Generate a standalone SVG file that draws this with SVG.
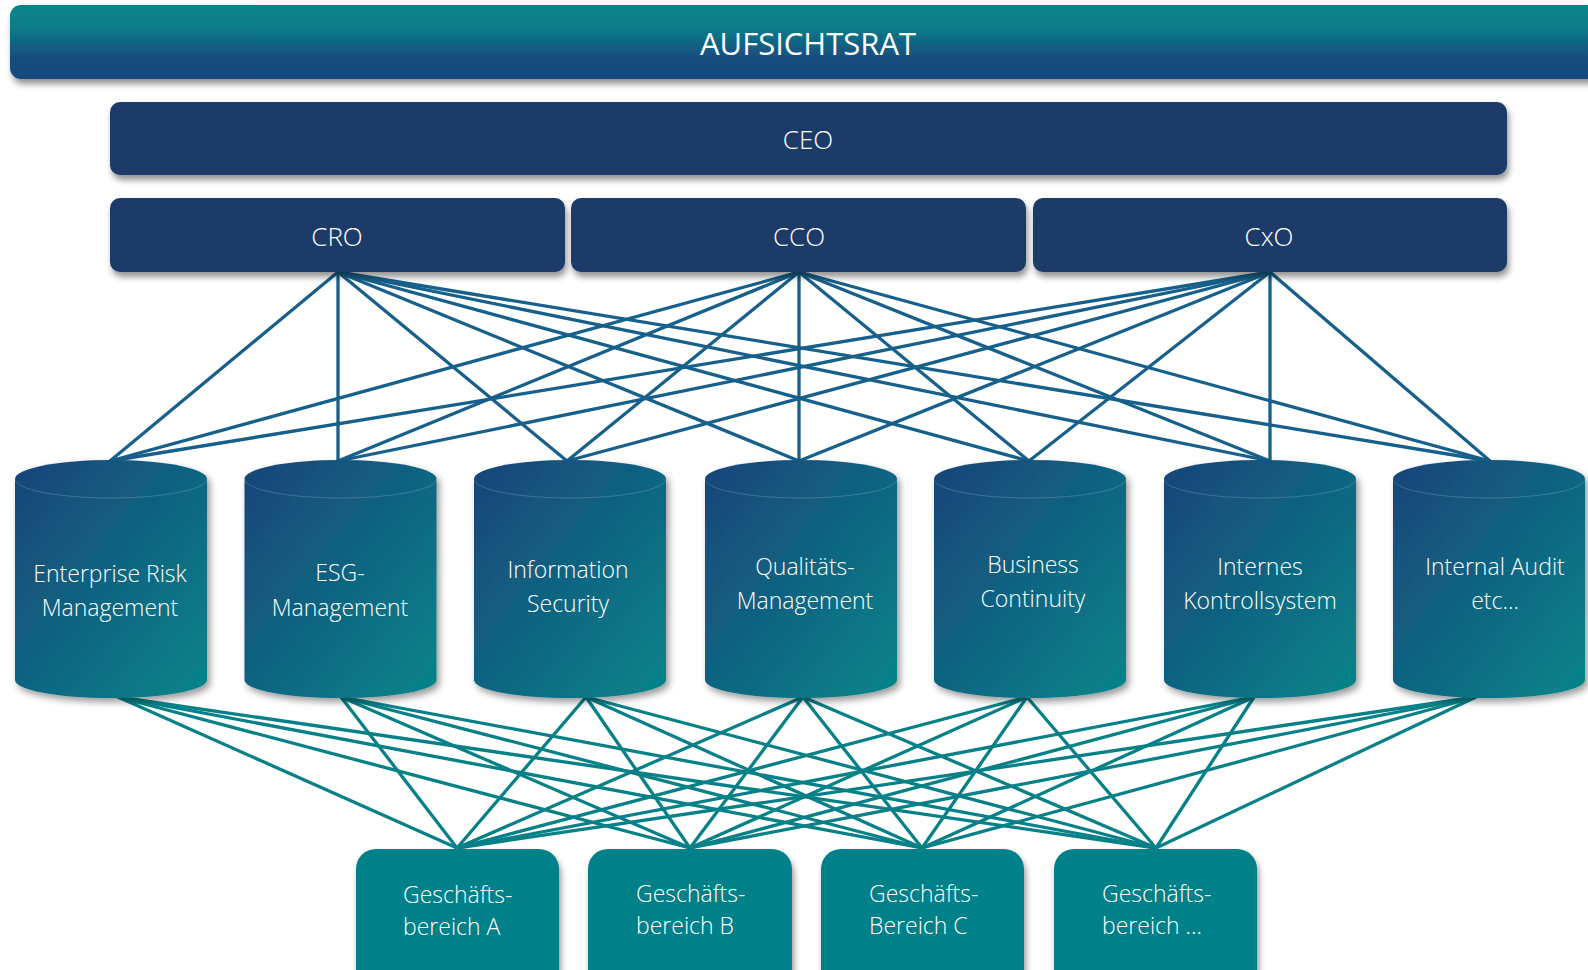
<svg xmlns="http://www.w3.org/2000/svg" width="1588" height="970" viewBox="0 0 1588 970">
<defs>
<linearGradient id="gAR" x1="0" y1="0" x2="0" y2="1">
<stop offset="0" stop-color="#06848a"/>
<stop offset="0.3" stop-color="#0a7d89"/>
<stop offset="0.72" stop-color="#174c7e"/>
<stop offset="1" stop-color="#184a7c"/>
</linearGradient>
<linearGradient id="gCyl" x1="0" y1="0" x2="1" y2="1">
<stop offset="0" stop-color="#1a4479"/>
<stop offset="1" stop-color="#05858a"/>
</linearGradient>
<filter id="sh" x="-10%" y="-20%" width="130%" height="160%">
<feDropShadow dx="2" dy="5" stdDeviation="3" flood-color="#000" flood-opacity="0.42"/>
</filter>
<filter id="shc" x="-20%" y="-10%" width="150%" height="130%">
<feDropShadow dx="3" dy="4" stdDeviation="3.5" flood-color="#000" flood-opacity="0.4"/>
</filter>
</defs>
<style>
.navy{fill:#1b3a68;filter:url(#sh)}
.gb{fill:#058088;filter:url(#sh)}
.cyl{fill:url(#gCyl);filter:url(#shc)}
.rim{fill:none;stroke:#ffffff;stroke-opacity:0.22;stroke-width:0.8}
.t{fill:#ffffff;font-family:"Open Sans","Liberation Sans",sans-serif;font-weight:300}
.tc{text-anchor:middle}
.top line{stroke:#17608b;stroke-width:3.3}
.bot line{stroke:#078088;stroke-width:3.3}
</style>
<rect width="1588" height="970" fill="#ffffff"/>

<g id="connectors">
<g class="top">
<line x1="338" y1="272" x2="110" y2="461"/>
<line x1="338" y1="272" x2="338" y2="461"/>
<line x1="338" y1="272" x2="567" y2="461"/>
<line x1="338" y1="272" x2="799" y2="461"/>
<line x1="338" y1="272" x2="1029" y2="461"/>
<line x1="338" y1="272" x2="1270" y2="461"/>
<line x1="338" y1="272" x2="1490" y2="461"/>
<line x1="799" y1="272" x2="110" y2="461"/>
<line x1="799" y1="272" x2="338" y2="461"/>
<line x1="799" y1="272" x2="567" y2="461"/>
<line x1="799" y1="272" x2="799" y2="461"/>
<line x1="799" y1="272" x2="1029" y2="461"/>
<line x1="799" y1="272" x2="1270" y2="461"/>
<line x1="799" y1="272" x2="1490" y2="461"/>
<line x1="1270" y1="272" x2="110" y2="461"/>
<line x1="1270" y1="272" x2="338" y2="461"/>
<line x1="1270" y1="272" x2="567" y2="461"/>
<line x1="1270" y1="272" x2="799" y2="461"/>
<line x1="1270" y1="272" x2="1029" y2="461"/>
<line x1="1270" y1="272" x2="1270" y2="461"/>
<line x1="1270" y1="272" x2="1490" y2="461"/>
</g>
<g class="bot">
<line x1="118" y1="697" x2="457" y2="848"/>
<line x1="118" y1="697" x2="690" y2="848"/>
<line x1="118" y1="697" x2="922" y2="848"/>
<line x1="118" y1="697" x2="1156" y2="848"/>
<line x1="341" y1="697" x2="457" y2="848"/>
<line x1="341" y1="697" x2="690" y2="848"/>
<line x1="341" y1="697" x2="922" y2="848"/>
<line x1="341" y1="697" x2="1156" y2="848"/>
<line x1="586" y1="697" x2="457" y2="848"/>
<line x1="586" y1="697" x2="690" y2="848"/>
<line x1="586" y1="697" x2="922" y2="848"/>
<line x1="586" y1="697" x2="1156" y2="848"/>
<line x1="803" y1="697" x2="457" y2="848"/>
<line x1="803" y1="697" x2="690" y2="848"/>
<line x1="803" y1="697" x2="922" y2="848"/>
<line x1="803" y1="697" x2="1156" y2="848"/>
<line x1="1027" y1="697" x2="457" y2="848"/>
<line x1="1027" y1="697" x2="690" y2="848"/>
<line x1="1027" y1="697" x2="922" y2="848"/>
<line x1="1027" y1="697" x2="1156" y2="848"/>
<line x1="1254" y1="697" x2="457" y2="848"/>
<line x1="1254" y1="697" x2="690" y2="848"/>
<line x1="1254" y1="697" x2="922" y2="848"/>
<line x1="1254" y1="697" x2="1156" y2="848"/>
<line x1="1476" y1="697" x2="457" y2="848"/>
<line x1="1476" y1="697" x2="690" y2="848"/>
<line x1="1476" y1="697" x2="922" y2="848"/>
<line x1="1476" y1="697" x2="1156" y2="848"/>
</g>
</g>

<g id="aufsichtsrat">
<rect x="10" y="5" width="1600" height="74" rx="11" fill="url(#gAR)" filter="url(#sh)"/>
<text class="t tc" x="808" y="55" font-size="31" style="font-weight:400">AUFSICHTSRAT</text>
</g>

<g id="ceo">
<rect class="navy" x="110" y="102" width="1397" height="73" rx="10"/>
<text class="t tc" x="808" y="149" font-size="26">CEO</text>
</g>
<g id="cro">
<rect class="navy" x="110" y="198" width="455" height="74" rx="10"/>
<text class="t tc" x="337" y="246" font-size="26">CRO</text>
</g>
<g id="cco">
<rect class="navy" x="571" y="198" width="455" height="74" rx="10"/>
<text class="t tc" x="799" y="246" font-size="26">CCO</text>
</g>
<g id="cxo">
<rect class="navy" x="1033" y="198" width="474" height="74" rx="10"/>
<text class="t tc" x="1269" y="246" font-size="26">CxO</text>
</g>

<g id="erm">
<path class="cyl" d="M15,479 A96,19 0 0 1 207,479 V680 A96,18 0 0 1 15,680 Z"/>
<path class="rim" d="M15,479 A96,19 0 0 0 207,479"/>
<text class="t tc" font-size="23"><tspan x="110" y="582">Enterprise Risk</tspan><tspan x="110" y="616">Management</tspan></text>
</g>
<g id="esg">
<path class="cyl" d="M244.5,479 A96,19 0 0 1 436.5,479 V680 A96,18 0 0 1 244.5,680 Z"/>
<path class="rim" d="M244.5,479 A96,19 0 0 0 436.5,479"/>
<text class="t tc" font-size="23"><tspan x="340" y="581">ESG-</tspan><tspan x="340" y="616">Management</tspan></text>
</g>
<g id="infosec">
<path class="cyl" d="M474,479 A96,19 0 0 1 666,479 V680 A96,18 0 0 1 474,680 Z"/>
<path class="rim" d="M474,479 A96,19 0 0 0 666,479"/>
<text class="t tc" font-size="23"><tspan x="568" y="578">Information</tspan><tspan x="568" y="612">Security</tspan></text>
</g>
<g id="qm">
<path class="cyl" d="M705,479 A96,19 0 0 1 897,479 V680 A96,18 0 0 1 705,680 Z"/>
<path class="rim" d="M705,479 A96,19 0 0 0 897,479"/>
<text class="t tc" font-size="23"><tspan x="805" y="575">Qualitäts-</tspan><tspan x="805" y="609">Management</tspan></text>
</g>
<g id="bcm">
<path class="cyl" d="M934,479 A96,19 0 0 1 1126,479 V680 A96,18 0 0 1 934,680 Z"/>
<path class="rim" d="M934,479 A96,19 0 0 0 1126,479"/>
<text class="t tc" font-size="23"><tspan x="1033" y="573">Business</tspan><tspan x="1033" y="607">Continuity</tspan></text>
</g>
<g id="iks">
<path class="cyl" d="M1164,479 A96,19 0 0 1 1356,479 V680 A96,18 0 0 1 1164,680 Z"/>
<path class="rim" d="M1164,479 A96,19 0 0 0 1356,479"/>
<text class="t tc" font-size="23"><tspan x="1260" y="575">Internes</tspan><tspan x="1260" y="609">Kontrollsystem</tspan></text>
</g>
<g id="audit">
<path class="cyl" d="M1393,479 A96,19 0 0 1 1585,479 V680 A96,18 0 0 1 1393,680 Z"/>
<path class="rim" d="M1393,479 A96,19 0 0 0 1585,479"/>
<text class="t tc" font-size="23"><tspan x="1495" y="575">Internal Audit</tspan><tspan x="1495" y="609">etc…</tspan></text>
</g>

<g id="gb-a">
<rect class="gb" x="356" y="849" width="203" height="150" rx="20"/>
<text class="t" font-size="23"><tspan x="403" y="903">Geschäfts-</tspan><tspan x="403" y="935">bereich A</tspan></text>
</g>
<g id="gb-b">
<rect class="gb" x="588" y="849" width="204" height="150" rx="20"/>
<text class="t" font-size="23"><tspan x="636" y="902">Geschäfts-</tspan><tspan x="636" y="934">bereich B</tspan></text>
</g>
<g id="gb-c">
<rect class="gb" x="821" y="849" width="203" height="150" rx="20"/>
<text class="t" font-size="23"><tspan x="869" y="902">Geschäfts-</tspan><tspan x="869" y="934">Bereich C</tspan></text>
</g>
<g id="gb-d">
<rect class="gb" x="1054" y="849" width="203" height="150" rx="20"/>
<text class="t" font-size="23"><tspan x="1102" y="902">Geschäfts-</tspan><tspan x="1102" y="934">bereich …</tspan></text>
</g>
</svg>
